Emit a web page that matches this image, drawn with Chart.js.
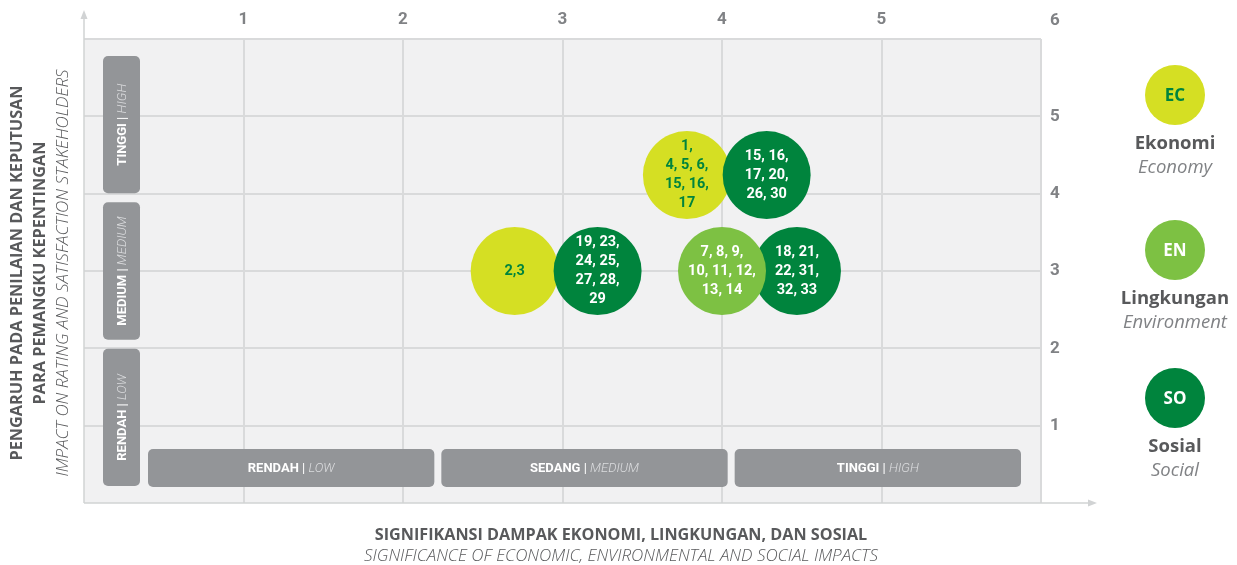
<!DOCTYPE html>
<html lang="id">
<head>
  <meta charset="UTF-8" />
  <title>Matriks Materialitas</title>
  <script src="https://cdn.jsdelivr.net/npm/chart.js"></script>
  <style>
    html, body { margin: 0; padding: 0; background: #fff; }
    #wrap { position: relative; width: 1237px; height: 565px; }
  </style>
</head>
<body>
  <div id="wrap"><canvas id="matrix"></canvas></div>

  <script>
    // categories + legend
    const categories = ["Ekonomi", "Lingkungan", "Sosial"];
    const categoriesEn = ["Economy", "Environment", "Social"];
    const codes = ["EC", "EN", "SO"];
    const colors = ["#d5df23", "#7dc143", "#00843d"];

    // bubble positions (x = significance, y = influence)
    const ecX = [2.70, 3.78];
    const ecY = [3.00, 4.24];
    const ecLabels = [["2,3"], ["1,", "4, 5, 6,", "15, 16,", "17"]];

    const enX = [4.00];
    const enY = [3.00];
    const enLabels = [["7, 8, 9,", "10, 11, 12,", "13, 14"]];

    const soX = [3.22, 4.28, 4.47];
    const soY = [3.00, 4.24, 3.00];
    const soLabels = [
      ["19, 23,", "24, 25,", "27, 28,", "29"],
      ["15, 16,", "17, 20,", "26, 30"],
      ["18, 21,", "22, 31,", "32, 33"]
    ];

    // axis ticks and level bands
    const xTicks = [1, 2, 3, 4, 5];
    const yTicks = [1, 2, 3, 4, 5, 6];
    const xLevels = ["RENDAH", "SEDANG", "TINGGI"];
    const yLevels = ["RENDAH", "MEDIUM", "TINGGI"];
    const levelsEn = ["LOW", "MEDIUM", "HIGH"];

    const yTitle = ["PENGARUH PADA PENILAIAN DAN KEPUTUSAN", "PARA PEMANGKU KEPENTINGAN", "IMPACT ON RATING AND SATISFACTION STAKEHOLDERS"];
    const xTitle = ["SIGNIFIKANSI DAMPAK EKONOMI, LINGKUNGAN, DAN SOSIAL", "SIGNIFICANCE OF ECONOMIC, ENVIRONMENTAL AND SOCIAL IMPACTS"];

    const toPoints = (xs, ys) => xs.map((x, i) => ({ x, y: ys[i] }));

    const bandGray = "#939598";
    const axisGray = "#d1d3d4";
    const textGray = "#58595b";
    const tickGray = "#808285";

    function drawParts(ctx, cx, cy, parts) {
      let total = 0;
      parts.forEach(p => { ctx.font = p.font; p.w = ctx.measureText(p.t).width; total += p.w; });
      let x = cx - total / 2;
      ctx.textBaseline = "middle";
      ctx.textAlign = "left";
      parts.forEach(p => {
        ctx.font = p.font;
        ctx.fillStyle = p.color;
        ctx.fillText(p.t, x, cy);
        x += p.w;
      });
    }

    function levelParts(id, en) {
      return [
        { t: id, font: "bold 13px Roboto", color: "#ffffff" },
        { t: " | ", font: "13px Roboto", color: "#ffffff" },
        { t: en, font: "italic 300 13px Roboto", color: "#dcdddf" }
      ];
    }

    const bubbleText = [enLabels, soLabels, ecLabels];
    const bubbleTextColor = ["#ffffff", "#ffffff", "#00843d"];

    const decor = {
      id: "decor",
      beforeDraw(chart) {
        const { ctx, chartArea: a } = chart;
        ctx.save();
        ctx.fillStyle = "#f1f1f2";
        ctx.fillRect(a.left, a.top, a.right - a.left, a.bottom - a.top);
        ctx.restore();
      },
      beforeDatasetsDraw(chart) {
        const { ctx, chartArea: a } = chart;
        ctx.save();

        // axis lines with arrows
        ctx.strokeStyle = axisGray;
        ctx.fillStyle = axisGray;
        ctx.lineWidth = 1.5;
        ctx.beginPath();
        ctx.moveTo(a.left, a.bottom);
        ctx.lineTo(a.left, a.top - 22);
        ctx.moveTo(a.left, a.bottom);
        ctx.lineTo(a.right + 48, a.bottom);
        ctx.stroke();
        ctx.beginPath();
        ctx.moveTo(a.left, a.top - 29);
        ctx.lineTo(a.left - 3.5, a.top - 20);
        ctx.lineTo(a.left + 3.5, a.top - 20);
        ctx.closePath();
        ctx.fill();
        ctx.beginPath();
        ctx.moveTo(a.right + 56, a.bottom);
        ctx.lineTo(a.right + 47, a.bottom - 3.5);
        ctx.lineTo(a.right + 47, a.bottom + 3.5);
        ctx.closePath();
        ctx.fill();

        // horizontal level bands (bottom)
        const gap = 7;
        const hx0 = a.left + 64, hx1 = a.right - 20;
        const hw = (hx1 - hx0 - 2 * gap) / 3;
        const hy = a.bottom - 54, hh = 38;
        xLevels.forEach((lv, i) => {
          const bx = hx0 + i * (hw + gap);
          ctx.fillStyle = bandGray;
          ctx.beginPath();
          ctx.roundRect(bx, hy, hw, hh, 5);
          ctx.fill();
          drawParts(ctx, bx + hw / 2, hy + hh / 2 + 1, levelParts(lv, levelsEn[i]));
        });

        // vertical level bands (left)
        const vgap = 9;
        const vy0 = a.top + 17, vy1 = a.bottom - 17;
        const vh = (vy1 - vy0 - 2 * vgap) / 3;
        const vx = a.left + 19, vw = 37;
        yLevels.forEach((lv, i) => {
          const by = vy1 - (i + 1) * vh - i * vgap;
          ctx.fillStyle = bandGray;
          ctx.beginPath();
          ctx.roundRect(vx, by, vw, vh, 5);
          ctx.fill();
          ctx.save();
          ctx.translate(vx + vw / 2 + 1, by + vh / 2);
          ctx.rotate(-Math.PI / 2);
          drawParts(ctx, 0, 0, levelParts(lv, levelsEn[i]));
          ctx.restore();
        });
        ctx.restore();
      },
      afterDatasetsDraw(chart) {
        const { ctx } = chart;
        ctx.save();
        ctx.textAlign = "center";
        ctx.textBaseline = "middle";
        ctx.font = "bold 14.5px Roboto";
        chart.data.datasets.forEach((ds, di) => {
          const meta = chart.getDatasetMeta(di);
          ctx.fillStyle = bubbleTextColor[di];
          meta.data.forEach((el, i) => {
            const lines = bubbleText[di][i];
            const lh = 19;
            const y0 = el.y - (lines.length - 1) * lh / 2;
            lines.forEach((ln, k) => ctx.fillText(ln, el.x, y0 + k * lh));
          });
        });
        ctx.restore();
      },
      afterDraw(chart) {
        const { ctx, chartArea: a } = chart;
        ctx.save();

        // stray "6" in top-right corner
        ctx.fillStyle = tickGray;
        ctx.font = "bold 17px Roboto";
        ctx.textAlign = "center";
        ctx.textBaseline = "middle";
        ctx.fillText("6", a.right + 14, 21);

        // y axis title
        const yt = [
          { t: yTitle[0], x: 17, font: "bold 16.3px 'Open Sans'" },
          { t: yTitle[1], x: 40, font: "bold 16.3px 'Open Sans'" },
          { t: yTitle[2], x: 63, font: "italic 300 17px 'Open Sans'" }
        ];
        yt.forEach(o => {
          ctx.save();
          ctx.translate(o.x, 273);
          ctx.rotate(-Math.PI / 2);
          ctx.font = o.font;
          ctx.fillStyle = textGray;
          ctx.fillText(o.t, 0, 0);
          ctx.restore();
        });

        // x axis title
        ctx.fillStyle = textGray;
        ctx.font = "bold 16.2px 'Open Sans'";
        ctx.fillText(xTitle[0], 621, 535);
        ctx.font = "italic 300 17px 'Open Sans'";
        ctx.fillText(xTitle[1], 621, 556);

        // legend
        const lx = 1175;
        const ly = [95, 250, 398];
        codes.forEach((c, i) => {
          ctx.fillStyle = colors[i];
          ctx.beginPath();
          ctx.arc(lx, ly[i], 30, 0, Math.PI * 2);
          ctx.fill();
          ctx.fillStyle = i === 0 ? "#00843d" : "#ffffff";
          ctx.font = "bold 17px 'Open Sans'";
          ctx.fillText(c, lx, ly[i] + 1);
          ctx.fillStyle = textGray;
          ctx.font = "bold 18.5px 'Open Sans'";
          ctx.fillText(categories[i], lx, ly[i] + 49);
          ctx.fillStyle = tickGray;
          ctx.font = "italic 18.5px 'Open Sans'";
          ctx.fillText(categoriesEn[i], lx, ly[i] + 73);
        });
        ctx.restore();
      }
    };

    const gridColor = ctx => (ctx.tick && ctx.tick.value === 0) ? "rgba(0,0,0,0)" : "#d9dadb";
    const noPad = s => { s.paddingTop = 0; s.paddingBottom = 0; s.paddingLeft = 0; s.paddingRight = 0; };

    new Chart(document.getElementById("matrix"), {
      type: "bubble",
      data: {
        datasets: [
          { label: categories[1], data: toPoints(enX, enY), backgroundColor: colors[1], radius: 44, borderWidth: 0 },
          { label: categories[2], data: toPoints(soX, soY), backgroundColor: colors[2], radius: 44, borderWidth: 0 },
          { label: categories[0], data: toPoints(ecX, ecY), backgroundColor: colors[0], radius: 44, borderWidth: 0 }
        ]
      },
      options: {
        responsive: true,
        maintainAspectRatio: false,
        animation: false,
        events: [],
        layout: { autoPadding: false, padding: { left: 84, top: 0, right: 0, bottom: 62 } },
        plugins: { legend: { display: false }, tooltip: { enabled: false } },
        scales: {
          x: {
            type: "linear",
            position: "top",
            min: 0, max: 6,
            afterFit: s => { s.height = 39; noPad(s); },
            afterBuildTicks: s => { s.ticks = [0, ...xTicks, 6].map(v => ({ value: v })); },
            ticks: {
              padding: 9,
              color: tickGray,
              font: { family: "Roboto", size: 17, weight: "bold" },
              callback: v => xTicks.includes(v) ? String(v) : ""
            },
            grid: { color: gridColor, lineWidth: 2, drawTicks: false },
            border: { display: false }
          },
          y: {
            type: "linear",
            position: "right",
            min: 0, max: 6,
            afterFit: s => { s.width = 196; noPad(s); },
            afterBuildTicks: s => { s.ticks = [0, ...yTicks].map(v => ({ value: v })); },
            ticks: {
              padding: 9,
              color: tickGray,
              font: { family: "Roboto", size: 17, weight: "bold" },
              callback: v => (v >= 1 && v <= 5) ? String(v) : ""
            },
            grid: { color: gridColor, lineWidth: 2, drawTicks: false },
            border: { display: false }
          }
        }
      },
      plugins: [decor]
    });
  </script>
</body>
</html>
